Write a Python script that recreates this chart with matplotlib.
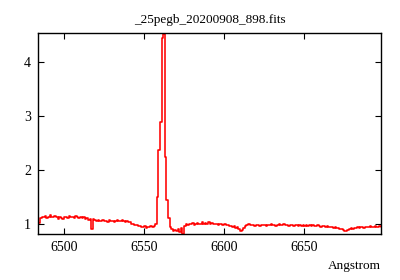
import numpy as np
import matplotlib
matplotlib.use("Agg")
import matplotlib.pyplot as plt

title = "_25pegb_20200908_898.fits"
xlabel = "Angstrom"
wave_start = 6484.5   # first sample (Angstrom), 1 A sampling
flux = [
    1.02, 1.12, 1.14, 1.13, 1.15, 1.12, 1.14, 1.16, 1.13, 1.14,
    1.15, 1.13, 1.10, 1.14, 1.12, 1.09, 1.13, 1.14, 1.12, 1.15,
    1.13, 1.14, 1.12, 1.15, 1.13, 1.11, 1.13, 1.12, 1.14, 1.10,
    1.11, 1.08, 1.10, 0.90, 1.09, 1.07, 1.06, 1.08, 1.05, 1.06,
    1.07, 1.05, 1.06, 1.04, 1.07, 1.05, 1.06, 1.04, 1.05, 1.07,
    1.06, 1.05, 1.07, 1.06, 1.04, 1.05, 1.03, 1.04, 1.00, 1.01,
    0.98, 0.99, 0.96, 0.97, 0.95, 0.94, 0.96, 0.93, 0.95, 0.94,
    0.96, 0.95, 0.97, 1.00, 1.50, 2.37, 2.90, 4.44, 4.52, 2.24,
    1.44, 1.12, 0.95, 0.90, 0.88, 0.89, 0.88, 0.90, 0.85, 0.92,
    0.82, 0.97, 1.00, 0.99, 1.01, 1.00, 1.02, 0.99, 1.01, 1.02,
    1.00, 1.01, 1.03, 1.00, 1.02, 1.01, 1.03, 1.01, 1.02, 1.00,
    1.01, 1.01, 0.99, 1.00, 1.01, 0.99, 1.00, 0.98, 0.99, 0.96,
    0.97, 0.95, 0.96, 0.93, 0.94, 0.90, 0.87, 0.89, 0.93, 0.97,
    0.99, 1.00, 0.99, 0.98, 0.99, 0.97, 0.98, 0.99, 0.97, 0.98,
    0.99, 0.98, 0.97, 0.99, 0.98, 1.00, 0.98, 0.99, 0.97, 0.98,
    1.00, 0.99, 0.98, 1.00, 0.98, 0.99, 0.97, 0.98, 0.99, 0.97,
    0.98, 0.99, 0.97, 0.98, 0.96, 0.98, 0.97, 0.99, 0.97, 0.98,
    0.96, 0.98, 0.97, 0.96, 0.98, 0.97, 0.95, 0.96, 0.97, 0.95,
    0.96, 0.95, 0.94, 0.95, 0.93, 0.94, 0.93, 0.92, 0.90, 0.91,
    0.89, 0.88, 0.87, 0.89, 0.90, 0.92, 0.91, 0.93, 0.92, 0.94,
    0.93, 0.94, 0.95, 0.93, 0.94, 0.95, 0.94, 0.96, 0.94, 0.95,
    0.96, 0.95, 0.94, 0.96, 0.95,
]
xticks = [6500, 6550, 6600, 6650]
yticks = [1, 2, 3, 4]
xlim = (6483.8, 6698.0)
ylim = (0.815, 4.54)

wave = wave_start + np.arange(len(flux))

plt.rcParams['font.family'] = ['Liberation Serif', 'DejaVu Serif']
fig = plt.figure(figsize=(4.0, 2.8), dpi=100)
ax = fig.add_axes([0.095, 0.164, 0.8575, 0.718])
ax.plot(wave, flux, color='#ff0000', lw=1.15, drawstyle='steps-mid')
ax.set_xlim(*xlim)
ax.set_ylim(*ylim)
ax.set_xticks(xticks)
ax.set_yticks(yticks)
ax.tick_params(direction='in', length=4, width=0.8, top=True, right=True,
               labelsize=10, pad=5)
for s in ax.spines.values():
    s.set_linewidth(1.0)
ax.set_title(title, fontsize=9.5, pad=7)
ax.set_xlabel(xlabel, loc='right', fontsize=9.5, labelpad=4)
fig.savefig("out.png", dpi=100)
